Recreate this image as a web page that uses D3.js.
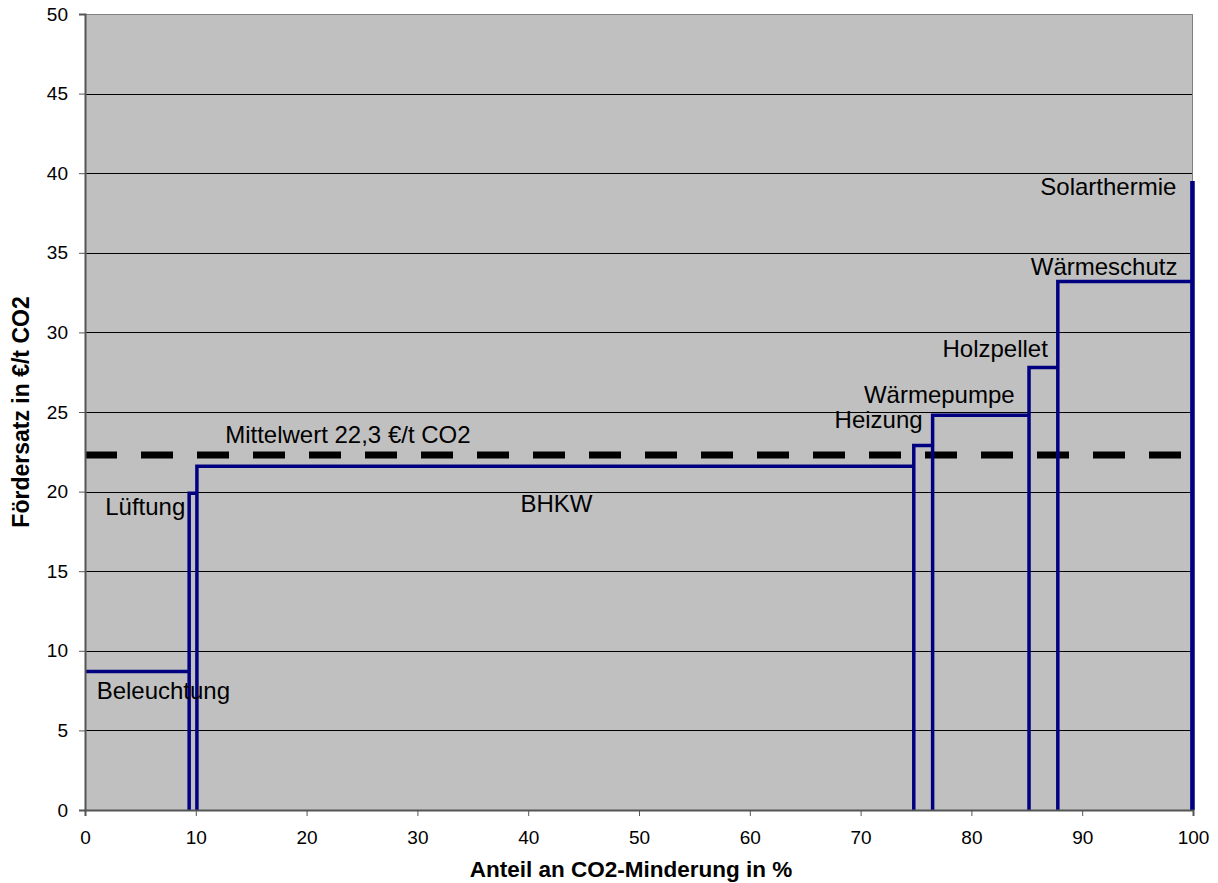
<!DOCTYPE html>
<html>
<head>
<meta charset="utf-8">
<script src="https://cdn.jsdelivr.net/npm/d3@7"></script>
<style>
  body { margin: 0; background: #fff; }
  text { font-family: "Liberation Sans", Arial, sans-serif; fill: #000; }
</style>
</head>
<body>
<div id="chart"></div>
<script>
// data
const measures = ["Beleuchtung", "Lüftung", "BHKW", "Heizung", "Wärmepumpe", "Holzpellet", "Wärmeschutz", "Solarthermie"];
const shareEnd = [9.4, 10.1, 74.8, 76.5, 85.2, 87.8, 99.9, 100];   // cumulative share of CO2 reduction in %
const rate = [8.7, 19.9, 21.6, 22.9, 24.8, 27.8, 33.2, 39.4];      // €/t CO2
const meanRate = 22.3;
const xTicks = [0, 10, 20, 30, 40, 50, 60, 70, 80, 90, 100];
const yTicks = [0, 5, 10, 15, 20, 25, 30, 35, 40, 45, 50];

// label anchors in data units (x, y) + anchor
const labelPos = {
  "Beleuchtung": [1.05, 6.97, "start"],
  "Lüftung": [9.05, 18.5, "end"],
  "BHKW": [39.3, 18.7, "start"],
  "Heizung": [75.6, 24.0, "end"],
  "Wärmepumpe": [83.9, 25.55, "end"],
  "Holzpellet": [86.9, 28.47, "end"],
  "Wärmeschutz": [98.6, 33.6, "end"],
  "Solarthermie": [98.5, 38.6, "end"]
};

const W = 1218, H = 883;
const margin = {top: 14, right: 25, bottom: 73, left: 85},
  width = W - margin.left - margin.right,
  height = H - margin.top - margin.bottom;

const svg = d3.select("#chart").append("svg")
  .attr("width", W).attr("height", H);

const g = svg.append("g")
  .attr("transform", "translate(" + margin.left + "," + margin.top + ")");

const x = d3.scaleLinear().domain([0, 100]).range([0, width]);
const y = d3.scaleLinear().domain([0, 50]).range([height, 0]);

// plot background
g.append("rect")
  .attr("width", width).attr("height", height)
  .attr("fill", "#c0c0c0");

// horizontal gridlines
g.selectAll(".grid")
  .data(yTicks.filter(d => d > 0 && d < 50))
  .join("line")
  .attr("x1", 0).attr("x2", width)
  .attr("y1", d => Math.round(y(d)) + 0.5).attr("y2", d => Math.round(y(d)) + 0.5)
  .attr("stroke", "#000").attr("stroke-width", 1);

// top and right border
g.append("path")
  .attr("d", "M0," + 0.5 + "H" + (width - 0.5) + "V" + height)
  .attr("fill", "none").attr("stroke", "#808080").attr("stroke-width", 1);

// mean line
g.append("line")
  .attr("x1", x(0)).attr("x2", x(100))
  .attr("y1", y(meanRate)).attr("y2", y(meanRate))
  .attr("stroke", "#000").attr("stroke-width", 7)
  .attr("stroke-dasharray", "32,24");

// step outline
const pts = [];
measures.forEach((m, i) => {
  const s = i === 0 ? 0 : shareEnd[i - 1];
  if (i > 0) pts.push([s, 0]);
  pts.push([s, rate[i]], [shareEnd[i], rate[i]], [shareEnd[i], 0]);
});
g.append("path")
  .attr("d", d3.line().x(d => x(d[0])).y(d => y(d[1]))(pts))
  .attr("fill", "none").attr("stroke", "#000080")
  .attr("stroke-width", 3.5).attr("stroke-linejoin", "miter");

// labels
g.selectAll(".lbl")
  .data(measures)
  .join("text")
  .attr("x", d => x(labelPos[d][0]))
  .attr("y", d => y(labelPos[d][1]))
  .attr("text-anchor", d => labelPos[d][2])
  .style("font-size", "24px")
  .text(d => d);

g.append("text")
  .attr("x", x(12.65)).attr("y", y(23.07))
  .style("font-size", "24px")
  .text("Mittelwert " + String(meanRate).replace(".", ",") + " €/t CO2");

// axes
const yAxis = g.append("g")
  .call(d3.axisLeft(y).tickValues(yTicks).tickSize(6).tickPadding(11));
yAxis.select(".domain").attr("stroke", "#555").attr("stroke-width", 2);
yAxis.selectAll(".tick line").attr("stroke", "#555");
yAxis.selectAll(".tick text").style("font-size", "19px")
  .attr("font-family", null);

const xAxis = g.append("g")
  .attr("transform", "translate(0," + height + ")")
  .call(d3.axisBottom(x).tickValues(xTicks).tickSize(6).tickPadding(14.5));
xAxis.select(".domain").attr("stroke", "#555").attr("stroke-width", 2);
xAxis.selectAll(".tick line").attr("stroke", "#555");
xAxis.selectAll(".tick text").style("font-size", "19px")
  .attr("font-family", null);

svg.selectAll(".tick text").attr("fill", "#000");

// axis titles
svg.append("text")
  .attr("x", 631).attr("y", 877)
  .attr("text-anchor", "middle")
  .style("font-size", "22.5px").style("font-weight", "bold")
  .text("Anteil an CO2-Minderung in %");

svg.append("text")
  .attr("transform", "translate(29," + (margin.top + height / 2) + ") rotate(-90)")
  .attr("text-anchor", "middle")
  .style("font-size", "23px").style("font-weight", "bold")
  .text("Fördersatz in €/t CO2");
</script>
</body>
</html>
